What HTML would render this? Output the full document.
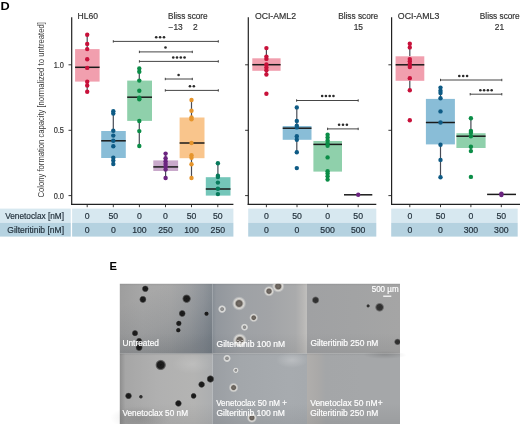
<!DOCTYPE html>
<html><head><meta charset="utf-8"><style>
html,body{margin:0;padding:0;background:#fff;}
body{width:520px;height:424px;overflow:hidden;}
svg{display:block;font-family:"Liberation Sans", sans-serif;will-change:transform;}
</style></head><body>
<svg width="520" height="424" viewBox="0 0 520 424">
<defs>

<linearGradient id="g0" x1="0" y1="0" x2="1" y2="0"><stop offset="0" stop-color="#9e9e9e"/><stop offset="0.25" stop-color="#a7a7a7"/><stop offset="0.55" stop-color="#a9a9a9"/><stop offset="0.75" stop-color="#a2a4a6"/><stop offset="0.9" stop-color="#979ba0"/><stop offset="1" stop-color="#8c9298"/></linearGradient>
<linearGradient id="g1" x1="0" y1="0" x2="1" y2="0"><stop offset="0" stop-color="#868d94"/><stop offset="0.04" stop-color="#92979d"/><stop offset="0.3" stop-color="#9ea1a5"/><stop offset="0.6" stop-color="#a2a4a7"/><stop offset="0.88" stop-color="#aaabac"/><stop offset="0.95" stop-color="#b6b5b4"/><stop offset="1" stop-color="#c0bfbd"/></linearGradient>
<linearGradient id="g2" x1="0" y1="0" x2="1" y2="0"><stop offset="0" stop-color="#a0a1a3"/><stop offset="0.5" stop-color="#a2a3a4"/><stop offset="1" stop-color="#a5a5a5"/></linearGradient>
<linearGradient id="g3" x1="0" y1="0" x2="1" y2="0"><stop offset="0" stop-color="#8e8e8e"/><stop offset="0.06" stop-color="#a6a6a6"/><stop offset="0.4" stop-color="#b0b0b0"/><stop offset="0.8" stop-color="#b4b4b3"/><stop offset="1" stop-color="#acaeb0"/></linearGradient>
<linearGradient id="g4" x1="0" y1="0" x2="1" y2="0"><stop offset="0" stop-color="#9a9ea3"/><stop offset="0.3" stop-color="#a3a7ab"/><stop offset="0.8" stop-color="#a7abaf"/><stop offset="1" stop-color="#a6aaae"/></linearGradient>
<linearGradient id="g5" x1="0" y1="0" x2="1" y2="0"><stop offset="0" stop-color="#b0aeac"/><stop offset="0.12" stop-color="#aaa9a8"/><stop offset="0.2" stop-color="#a4a6a8"/><stop offset="0.6" stop-color="#a5a7a9"/><stop offset="1" stop-color="#a5a7a9"/></linearGradient>
<linearGradient id="vsh" x1="0" y1="0" x2="0" y2="1"><stop offset="0" stop-color="#000" stop-opacity="0.08"/><stop offset="0.03" stop-color="#000" stop-opacity="0"/><stop offset="0.7" stop-color="#000" stop-opacity="0"/><stop offset="1" stop-color="#000" stop-opacity="0.06"/></linearGradient>
<radialGradient id="lt"><stop offset="0" stop-color="#ffffff" stop-opacity="0.22"/><stop offset="1" stop-color="#ffffff" stop-opacity="0"/></radialGradient>
<radialGradient id="dkb"><stop offset="0" stop-color="#000" stop-opacity="0.12"/><stop offset="1" stop-color="#000" stop-opacity="0"/></radialGradient>
<linearGradient id="p1d" x1="0.5" y1="0" x2="1" y2="0.75"><stop offset="0" stop-color="#102030" stop-opacity="0"/><stop offset="0.5" stop-color="#102030" stop-opacity="0.08"/><stop offset="1" stop-color="#102030" stop-opacity="0.2"/></linearGradient>
<radialGradient id="dk"><stop offset="0" stop-color="#181818"/><stop offset="0.62" stop-color="#1e1e1e"/><stop offset="0.85" stop-color="#3a3a3a" stop-opacity="0.6"/><stop offset="1" stop-color="#555" stop-opacity="0"/></radialGradient>
<radialGradient id="dk2"><stop offset="0" stop-color="#2c2c2c"/><stop offset="0.6" stop-color="#333"/><stop offset="0.85" stop-color="#555" stop-opacity="0.5"/><stop offset="1" stop-color="#666" stop-opacity="0"/></radialGradient>
<radialGradient id="ring"><stop offset="0" stop-color="#78716a"/><stop offset="0.4" stop-color="#635d57"/><stop offset="0.55" stop-color="#bdbab5"/><stop offset="0.68" stop-color="#dcdad6"/><stop offset="0.82" stop-color="#d4d4d2" stop-opacity="0.55"/><stop offset="1" stop-color="#d0d0d0" stop-opacity="0"/></radialGradient>
<radialGradient id="ringl"><stop offset="0" stop-color="#9a9a9a"/><stop offset="0.35" stop-color="#8a8a8a"/><stop offset="0.55" stop-color="#d8d8d6"/><stop offset="0.75" stop-color="#e6e6e4" stop-opacity="0.8"/><stop offset="1" stop-color="#ddd" stop-opacity="0"/></radialGradient>
<clipPath id="cE"><rect x="119.8" y="283.8" width="280.20" height="140.20"/></clipPath>
<filter id="bl" x="-20%" y="-20%" width="140%" height="140%"><feGaussianBlur stdDeviation="0.45"/></filter>
</defs>
<rect width="520" height="424" fill="#fff"/>
<text x="0.5" y="9.8" font-size="11.4" text-anchor="start" fill="#000" font-weight="bold" textLength="9.2" lengthAdjust="spacingAndGlyphs">D</text>
<rect x="0" y="208.6" width="70.80" height="14.20" fill="#d7e8f0"/>
<rect x="0" y="222.8" width="70.80" height="13.80" fill="#b5d2e0"/>
<rect x="72.1" y="208.6" width="161.30" height="14.20" fill="#d7e8f0"/>
<rect x="72.1" y="222.8" width="161.30" height="13.80" fill="#b5d2e0"/>
<rect x="248.2" y="208.6" width="128.10" height="14.20" fill="#d7e8f0"/>
<rect x="248.2" y="222.8" width="128.10" height="13.80" fill="#b5d2e0"/>
<rect x="391.2" y="208.6" width="126.50" height="14.20" fill="#d7e8f0"/>
<rect x="391.2" y="222.8" width="126.50" height="13.80" fill="#b5d2e0"/>
<text x="64" y="218.8" font-size="8.6" text-anchor="end" fill="#1f2d38" font-weight="normal" textLength="58.8" lengthAdjust="spacingAndGlyphs" stroke="#1f2d38" stroke-width="0.18">Venetoclax [nM]</text>
<text x="64" y="232.6" font-size="8.6" text-anchor="end" fill="#1f2d38" font-weight="normal" textLength="56.7" lengthAdjust="spacingAndGlyphs" stroke="#1f2d38" stroke-width="0.18">Gilteritinib [nM]</text>
<text x="87.2" y="218.9" font-size="8.7" text-anchor="middle" fill="#1f2d38" font-weight="normal" stroke="#1f2d38" stroke-width="0.18">0</text>
<text x="87.2" y="232.7" font-size="8.7" text-anchor="middle" fill="#1f2d38" font-weight="normal" stroke="#1f2d38" stroke-width="0.18">0</text>
<text x="113.3" y="218.9" font-size="8.7" text-anchor="middle" fill="#1f2d38" font-weight="normal" stroke="#1f2d38" stroke-width="0.18">50</text>
<text x="113.3" y="232.7" font-size="8.7" text-anchor="middle" fill="#1f2d38" font-weight="normal" stroke="#1f2d38" stroke-width="0.18">0</text>
<text x="139.4" y="218.9" font-size="8.7" text-anchor="middle" fill="#1f2d38" font-weight="normal" stroke="#1f2d38" stroke-width="0.18">0</text>
<text x="139.4" y="232.7" font-size="8.7" text-anchor="middle" fill="#1f2d38" font-weight="normal" stroke="#1f2d38" stroke-width="0.18">100</text>
<text x="165.5" y="218.9" font-size="8.7" text-anchor="middle" fill="#1f2d38" font-weight="normal" stroke="#1f2d38" stroke-width="0.18">0</text>
<text x="165.5" y="232.7" font-size="8.7" text-anchor="middle" fill="#1f2d38" font-weight="normal" stroke="#1f2d38" stroke-width="0.18">250</text>
<text x="191.5" y="218.9" font-size="8.7" text-anchor="middle" fill="#1f2d38" font-weight="normal" stroke="#1f2d38" stroke-width="0.18">50</text>
<text x="191.5" y="232.7" font-size="8.7" text-anchor="middle" fill="#1f2d38" font-weight="normal" stroke="#1f2d38" stroke-width="0.18">100</text>
<text x="217.8" y="218.9" font-size="8.7" text-anchor="middle" fill="#1f2d38" font-weight="normal" stroke="#1f2d38" stroke-width="0.18">50</text>
<text x="217.8" y="232.7" font-size="8.7" text-anchor="middle" fill="#1f2d38" font-weight="normal" stroke="#1f2d38" stroke-width="0.18">250</text>
<text x="266.4" y="218.9" font-size="8.7" text-anchor="middle" fill="#1f2d38" font-weight="normal" stroke="#1f2d38" stroke-width="0.18">0</text>
<text x="266.4" y="232.7" font-size="8.7" text-anchor="middle" fill="#1f2d38" font-weight="normal" stroke="#1f2d38" stroke-width="0.18">0</text>
<text x="297.0" y="218.9" font-size="8.7" text-anchor="middle" fill="#1f2d38" font-weight="normal" stroke="#1f2d38" stroke-width="0.18">50</text>
<text x="297.0" y="232.7" font-size="8.7" text-anchor="middle" fill="#1f2d38" font-weight="normal" stroke="#1f2d38" stroke-width="0.18">0</text>
<text x="327.6" y="218.9" font-size="8.7" text-anchor="middle" fill="#1f2d38" font-weight="normal" stroke="#1f2d38" stroke-width="0.18">0</text>
<text x="327.6" y="232.7" font-size="8.7" text-anchor="middle" fill="#1f2d38" font-weight="normal" stroke="#1f2d38" stroke-width="0.18">500</text>
<text x="358.2" y="218.9" font-size="8.7" text-anchor="middle" fill="#1f2d38" font-weight="normal" stroke="#1f2d38" stroke-width="0.18">50</text>
<text x="358.2" y="232.7" font-size="8.7" text-anchor="middle" fill="#1f2d38" font-weight="normal" stroke="#1f2d38" stroke-width="0.18">500</text>
<text x="409.8" y="218.9" font-size="8.7" text-anchor="middle" fill="#1f2d38" font-weight="normal" stroke="#1f2d38" stroke-width="0.18">0</text>
<text x="409.8" y="232.7" font-size="8.7" text-anchor="middle" fill="#1f2d38" font-weight="normal" stroke="#1f2d38" stroke-width="0.18">0</text>
<text x="440.5" y="218.9" font-size="8.7" text-anchor="middle" fill="#1f2d38" font-weight="normal" stroke="#1f2d38" stroke-width="0.18">50</text>
<text x="440.5" y="232.7" font-size="8.7" text-anchor="middle" fill="#1f2d38" font-weight="normal" stroke="#1f2d38" stroke-width="0.18">0</text>
<text x="470.9" y="218.9" font-size="8.7" text-anchor="middle" fill="#1f2d38" font-weight="normal" stroke="#1f2d38" stroke-width="0.18">0</text>
<text x="470.9" y="232.7" font-size="8.7" text-anchor="middle" fill="#1f2d38" font-weight="normal" stroke="#1f2d38" stroke-width="0.18">300</text>
<text x="501.3" y="218.9" font-size="8.7" text-anchor="middle" fill="#1f2d38" font-weight="normal" stroke="#1f2d38" stroke-width="0.18">50</text>
<text x="501.3" y="232.7" font-size="8.7" text-anchor="middle" fill="#1f2d38" font-weight="normal" stroke="#1f2d38" stroke-width="0.18">300</text>
<line x1="71.7" y1="17.3" x2="71.7" y2="205.0" stroke="#222222" stroke-width="1.2"/>
<line x1="71.10000000000001" y1="204.4" x2="233.4" y2="204.4" stroke="#222222" stroke-width="1.2"/>
<line x1="68.5" y1="64.8" x2="71.7" y2="64.8" stroke="#222222" stroke-width="0.9"/>
<line x1="68.5" y1="130.3" x2="71.7" y2="130.3" stroke="#222222" stroke-width="0.9"/>
<line x1="68.5" y1="195.6" x2="71.7" y2="195.6" stroke="#222222" stroke-width="0.9"/>
<line x1="87.2" y1="204.4" x2="87.2" y2="207.2" stroke="#222222" stroke-width="0.9"/>
<line x1="113.3" y1="204.4" x2="113.3" y2="207.2" stroke="#222222" stroke-width="0.9"/>
<line x1="139.4" y1="204.4" x2="139.4" y2="207.2" stroke="#222222" stroke-width="0.9"/>
<line x1="165.5" y1="204.4" x2="165.5" y2="207.2" stroke="#222222" stroke-width="0.9"/>
<line x1="191.5" y1="204.4" x2="191.5" y2="207.2" stroke="#222222" stroke-width="0.9"/>
<line x1="217.8" y1="204.4" x2="217.8" y2="207.2" stroke="#222222" stroke-width="0.9"/>
<line x1="248.3" y1="17.3" x2="248.3" y2="205.0" stroke="#222222" stroke-width="1.2"/>
<line x1="247.70000000000002" y1="204.4" x2="376.3" y2="204.4" stroke="#222222" stroke-width="1.2"/>
<line x1="245.10000000000002" y1="64.8" x2="248.3" y2="64.8" stroke="#222222" stroke-width="0.9"/>
<line x1="245.10000000000002" y1="130.3" x2="248.3" y2="130.3" stroke="#222222" stroke-width="0.9"/>
<line x1="245.10000000000002" y1="195.6" x2="248.3" y2="195.6" stroke="#222222" stroke-width="0.9"/>
<line x1="266.4" y1="204.4" x2="266.4" y2="207.2" stroke="#222222" stroke-width="0.9"/>
<line x1="297.0" y1="204.4" x2="297.0" y2="207.2" stroke="#222222" stroke-width="0.9"/>
<line x1="327.6" y1="204.4" x2="327.6" y2="207.2" stroke="#222222" stroke-width="0.9"/>
<line x1="358.2" y1="204.4" x2="358.2" y2="207.2" stroke="#222222" stroke-width="0.9"/>
<line x1="391.6" y1="17.3" x2="391.6" y2="205.0" stroke="#222222" stroke-width="1.2"/>
<line x1="391.0" y1="204.4" x2="520" y2="204.4" stroke="#222222" stroke-width="1.2"/>
<line x1="388.40000000000003" y1="64.8" x2="391.6" y2="64.8" stroke="#222222" stroke-width="0.9"/>
<line x1="388.40000000000003" y1="130.3" x2="391.6" y2="130.3" stroke="#222222" stroke-width="0.9"/>
<line x1="388.40000000000003" y1="195.6" x2="391.6" y2="195.6" stroke="#222222" stroke-width="0.9"/>
<line x1="409.8" y1="204.4" x2="409.8" y2="207.2" stroke="#222222" stroke-width="0.9"/>
<line x1="440.5" y1="204.4" x2="440.5" y2="207.2" stroke="#222222" stroke-width="0.9"/>
<line x1="470.9" y1="204.4" x2="470.9" y2="207.2" stroke="#222222" stroke-width="0.9"/>
<line x1="501.3" y1="204.4" x2="501.3" y2="207.2" stroke="#222222" stroke-width="0.9"/>
<text x="64.0" y="67.7" font-size="8.4" text-anchor="end" fill="#333" font-weight="normal" textLength="10.3" lengthAdjust="spacingAndGlyphs" stroke="#333" stroke-width="0.18">1.0</text>
<text x="64.0" y="132.8" font-size="8.4" text-anchor="end" fill="#333" font-weight="normal" textLength="10.3" lengthAdjust="spacingAndGlyphs" stroke="#333" stroke-width="0.18">0.5</text>
<text x="64.0" y="198.6" font-size="8.4" text-anchor="end" fill="#333" font-weight="normal" textLength="10.3" lengthAdjust="spacingAndGlyphs" stroke="#333" stroke-width="0.18">0.0</text>
<text transform="translate(44.2,197.4) rotate(-90)" font-size="8.9" fill="#3a3a3a" textLength="87.8" lengthAdjust="spacingAndGlyphs">Colony formation capacity</text>
<text transform="translate(44.2,107.6) rotate(-90)" font-size="8.9" fill="#3a3a3a" textLength="85.6" lengthAdjust="spacingAndGlyphs">[normalized to untreated]</text>
<text x="77.5" y="19.2" font-size="8.6" text-anchor="start" fill="#333" font-weight="normal" textLength="20.5" lengthAdjust="spacingAndGlyphs" stroke="#333" stroke-width="0.18">HL60</text>
<text x="254.9" y="19.2" font-size="8.6" text-anchor="start" fill="#333" font-weight="normal" textLength="41.1" lengthAdjust="spacingAndGlyphs" stroke="#333" stroke-width="0.18">OCI-AML2</text>
<text x="397.8" y="19.2" font-size="8.6" text-anchor="start" fill="#333" font-weight="normal" textLength="41.5" lengthAdjust="spacingAndGlyphs" stroke="#333" stroke-width="0.18">OCI-AML3</text>
<text x="167.9" y="19.2" font-size="8.4" text-anchor="start" fill="#333" font-weight="normal" textLength="39.8" lengthAdjust="spacingAndGlyphs" stroke="#333" stroke-width="0.18">Bliss score</text>
<text x="168.5" y="29.7" font-size="8.4" text-anchor="start" fill="#333" font-weight="normal" textLength="14.2" lengthAdjust="spacingAndGlyphs" stroke="#333" stroke-width="0.18">−13</text>
<text x="192.9" y="29.7" font-size="8.4" text-anchor="start" fill="#333" font-weight="normal" stroke="#333" stroke-width="0.18">2</text>
<text x="338.2" y="19.2" font-size="8.4" text-anchor="start" fill="#333" font-weight="normal" textLength="39.9" lengthAdjust="spacingAndGlyphs" stroke="#333" stroke-width="0.18">Bliss score</text>
<text x="358.3" y="29.9" font-size="8.4" text-anchor="middle" fill="#333" font-weight="normal" stroke="#333" stroke-width="0.18">15</text>
<text x="479.8" y="19.2" font-size="8.4" text-anchor="start" fill="#333" font-weight="normal" textLength="39.9" lengthAdjust="spacingAndGlyphs" stroke="#333" stroke-width="0.18">Bliss score</text>
<text x="499.5" y="29.9" font-size="8.4" text-anchor="middle" fill="#333" font-weight="normal" stroke="#333" stroke-width="0.18">21</text>
<line x1="87.2" y1="34.8" x2="87.2" y2="49.1" stroke="#474b55" stroke-width="1.2"/>
<line x1="87.2" y1="81.6" x2="87.2" y2="91.8" stroke="#474b55" stroke-width="1.2"/>
<rect x="75.1" y="49.1" width="24.50" height="32.50" fill="#f19fae"/>
<line x1="75.1" y1="67.3" x2="99.6" y2="67.3" stroke="#1a1a1a" stroke-width="1.5"/>
<circle cx="87.2" cy="34.8" r="2.2" fill="#c8113a"/>
<circle cx="87.2" cy="43.9" r="2.2" fill="#c8113a"/>
<circle cx="87.2" cy="49.1" r="2.2" fill="#c8113a"/>
<circle cx="87.2" cy="59.3" r="2.2" fill="#c8113a"/>
<circle cx="87.2" cy="67.9" r="2.2" fill="#c8113a"/>
<circle cx="87.2" cy="81.7" r="2.2" fill="#c8113a"/>
<circle cx="87.2" cy="85.5" r="2.2" fill="#c8113a"/>
<circle cx="87.2" cy="91.8" r="2.2" fill="#c8113a"/>
<line x1="113.3" y1="111.2" x2="113.3" y2="131.0" stroke="#474b55" stroke-width="1.2"/>
<line x1="113.3" y1="158.0" x2="113.3" y2="164.0" stroke="#474b55" stroke-width="1.2"/>
<rect x="101.2" y="131.0" width="24.60" height="27.00" fill="#89bdd7"/>
<line x1="101.2" y1="140.8" x2="125.8" y2="140.8" stroke="#1a1a1a" stroke-width="1.5"/>
<circle cx="113.3" cy="111.2" r="2.2" fill="#0e5b85"/>
<circle cx="113.3" cy="113.6" r="2.2" fill="#0e5b85"/>
<circle cx="113.3" cy="130.8" r="2.2" fill="#0e5b85"/>
<circle cx="113.3" cy="135.6" r="2.2" fill="#0e5b85"/>
<circle cx="113.3" cy="140.8" r="2.2" fill="#0e5b85"/>
<circle cx="113.3" cy="146.2" r="2.2" fill="#0e5b85"/>
<circle cx="113.3" cy="157.7" r="2.2" fill="#0e5b85"/>
<circle cx="113.3" cy="160.6" r="2.2" fill="#0e5b85"/>
<circle cx="113.3" cy="164.0" r="2.2" fill="#0e5b85"/>
<line x1="139.3" y1="68.5" x2="139.3" y2="80.6" stroke="#474b55" stroke-width="1.2"/>
<line x1="139.3" y1="120.9" x2="139.3" y2="146.0" stroke="#474b55" stroke-width="1.2"/>
<rect x="127.2" y="80.6" width="24.80" height="40.30" fill="#8fd0ab"/>
<line x1="127.2" y1="97.2" x2="152.0" y2="97.2" stroke="#1a1a1a" stroke-width="1.5"/>
<circle cx="139.3" cy="68.5" r="2.2" fill="#0b8d47"/>
<circle cx="139.3" cy="71.7" r="2.2" fill="#0b8d47"/>
<circle cx="139.3" cy="80.6" r="2.2" fill="#0b8d47"/>
<circle cx="139.3" cy="90.8" r="2.2" fill="#0b8d47"/>
<circle cx="139.3" cy="97.8" r="2.2" fill="#0b8d47"/>
<circle cx="139.3" cy="99.3" r="2.2" fill="#0b8d47"/>
<circle cx="139.3" cy="121.0" r="2.2" fill="#0b8d47"/>
<circle cx="139.3" cy="131.1" r="2.2" fill="#0b8d47"/>
<circle cx="139.3" cy="146.0" r="2.2" fill="#0b8d47"/>
<line x1="165.6" y1="153.3" x2="165.6" y2="160.4" stroke="#474b55" stroke-width="1.2"/>
<line x1="165.6" y1="171.0" x2="165.6" y2="178.2" stroke="#474b55" stroke-width="1.2"/>
<rect x="153.3" y="160.4" width="24.80" height="10.60" fill="#c9a9cb"/>
<line x1="153.3" y1="166.9" x2="178.1" y2="166.9" stroke="#1a1a1a" stroke-width="1.5"/>
<circle cx="165.6" cy="153.6" r="2.2" fill="#6b2480"/>
<circle cx="165.6" cy="158.2" r="2.2" fill="#6b2480"/>
<circle cx="165.6" cy="161.3" r="2.2" fill="#6b2480"/>
<circle cx="165.6" cy="164.0" r="2.2" fill="#6b2480"/>
<circle cx="165.6" cy="166.4" r="2.2" fill="#6b2480"/>
<circle cx="165.6" cy="169.6" r="2.2" fill="#6b2480"/>
<circle cx="165.6" cy="178.0" r="2.2" fill="#6b2480"/>
<line x1="191.5" y1="100.0" x2="191.5" y2="117.5" stroke="#474b55" stroke-width="1.2"/>
<line x1="191.5" y1="158.2" x2="191.5" y2="178.0" stroke="#474b55" stroke-width="1.2"/>
<rect x="179.6" y="117.5" width="24.90" height="40.70" fill="#f9c58c"/>
<line x1="179.6" y1="143.0" x2="204.5" y2="143.0" stroke="#1a1a1a" stroke-width="1.5"/>
<circle cx="191.5" cy="100.0" r="2.2" fill="#e6952c"/>
<circle cx="191.5" cy="110.7" r="2.2" fill="#e6952c"/>
<circle cx="191.5" cy="117.5" r="2.2" fill="#e6952c"/>
<circle cx="191.5" cy="119.2" r="2.2" fill="#e6952c"/>
<circle cx="191.5" cy="143.0" r="2.2" fill="#e6952c"/>
<circle cx="191.5" cy="155.3" r="2.2" fill="#e6952c"/>
<circle cx="191.5" cy="157.8" r="2.2" fill="#e6952c"/>
<circle cx="191.5" cy="164.2" r="2.2" fill="#e6952c"/>
<circle cx="191.5" cy="178.0" r="2.2" fill="#e6952c"/>
<line x1="217.9" y1="163.3" x2="217.9" y2="177.2" stroke="#474b55" stroke-width="1.2"/>
<line x1="217.9" y1="195.6" x2="217.9" y2="195.7" stroke="#474b55" stroke-width="1.2"/>
<rect x="205.8" y="177.2" width="24.70" height="18.40" fill="#74c6b9"/>
<line x1="205.8" y1="189.0" x2="230.5" y2="189.0" stroke="#1a1a1a" stroke-width="1.5"/>
<circle cx="217.9" cy="163.3" r="2.2" fill="#087a5c"/>
<circle cx="217.9" cy="175.7" r="2.2" fill="#087a5c"/>
<circle cx="217.9" cy="177.0" r="2.2" fill="#087a5c"/>
<circle cx="217.9" cy="182.6" r="2.2" fill="#087a5c"/>
<circle cx="217.9" cy="188.7" r="2.2" fill="#087a5c"/>
<circle cx="217.9" cy="194.1" r="2.2" fill="#087a5c"/>
<line x1="113.3" y1="41.4" x2="218.3" y2="41.4" stroke="#3c3c3c" stroke-width="0.95"/>
<line x1="113.3" y1="40.199999999999996" x2="113.3" y2="42.6" stroke="#3c3c3c" stroke-width="0.95"/>
<line x1="218.3" y1="40.199999999999996" x2="218.3" y2="42.6" stroke="#3c3c3c" stroke-width="0.95"/>
<circle cx="156.20" cy="37.3" r="1.3" fill="#2a2a2a"/>
<circle cx="160.10" cy="37.3" r="1.3" fill="#2a2a2a"/>
<circle cx="164.00" cy="37.3" r="1.3" fill="#2a2a2a"/>
<line x1="139.4" y1="51.9" x2="192.3" y2="51.9" stroke="#3c3c3c" stroke-width="0.95"/>
<line x1="139.4" y1="50.699999999999996" x2="139.4" y2="53.1" stroke="#3c3c3c" stroke-width="0.95"/>
<line x1="192.3" y1="50.699999999999996" x2="192.3" y2="53.1" stroke="#3c3c3c" stroke-width="0.95"/>
<circle cx="165.50" cy="47.5" r="1.3" fill="#2a2a2a"/>
<line x1="139.4" y1="61.4" x2="218.3" y2="61.4" stroke="#3c3c3c" stroke-width="0.95"/>
<line x1="139.4" y1="60.199999999999996" x2="139.4" y2="62.6" stroke="#3c3c3c" stroke-width="0.95"/>
<line x1="218.3" y1="60.199999999999996" x2="218.3" y2="62.6" stroke="#3c3c3c" stroke-width="0.95"/>
<circle cx="173.25" cy="57.5" r="1.3" fill="#2a2a2a"/>
<circle cx="177.02" cy="57.5" r="1.3" fill="#2a2a2a"/>
<circle cx="180.78" cy="57.5" r="1.3" fill="#2a2a2a"/>
<circle cx="184.56" cy="57.5" r="1.3" fill="#2a2a2a"/>
<line x1="165.3" y1="79.0" x2="192.3" y2="79.0" stroke="#3c3c3c" stroke-width="0.95"/>
<line x1="165.3" y1="77.8" x2="165.3" y2="80.2" stroke="#3c3c3c" stroke-width="0.95"/>
<line x1="192.3" y1="77.8" x2="192.3" y2="80.2" stroke="#3c3c3c" stroke-width="0.95"/>
<circle cx="178.60" cy="75.0" r="1.3" fill="#2a2a2a"/>
<line x1="165.3" y1="90.4" x2="218.3" y2="90.4" stroke="#3c3c3c" stroke-width="0.95"/>
<line x1="165.3" y1="89.2" x2="165.3" y2="91.60000000000001" stroke="#3c3c3c" stroke-width="0.95"/>
<line x1="218.3" y1="89.2" x2="218.3" y2="91.60000000000001" stroke="#3c3c3c" stroke-width="0.95"/>
<circle cx="189.95" cy="86.3" r="1.3" fill="#2a2a2a"/>
<circle cx="193.85" cy="86.3" r="1.3" fill="#2a2a2a"/>
<line x1="266.4" y1="48.1" x2="266.4" y2="58.3" stroke="#474b55" stroke-width="1.2"/>
<line x1="266.4" y1="70.8" x2="266.4" y2="74.5" stroke="#474b55" stroke-width="1.2"/>
<rect x="252.3" y="58.3" width="28.30" height="12.50" fill="#f19fae"/>
<line x1="252.3" y1="64.7" x2="280.6" y2="64.7" stroke="#1a1a1a" stroke-width="1.5"/>
<circle cx="266.4" cy="48.1" r="2.2" fill="#c8113a"/>
<circle cx="266.4" cy="56.6" r="2.2" fill="#c8113a"/>
<circle cx="266.4" cy="58.9" r="2.2" fill="#c8113a"/>
<circle cx="266.4" cy="64.5" r="2.2" fill="#c8113a"/>
<circle cx="266.4" cy="67.4" r="2.2" fill="#c8113a"/>
<circle cx="266.4" cy="70.2" r="2.2" fill="#c8113a"/>
<circle cx="266.4" cy="74.5" r="2.2" fill="#c8113a"/>
<circle cx="266.4" cy="93.8" r="2.2" fill="#c8113a"/>
<line x1="296.8" y1="107.4" x2="296.8" y2="126.0" stroke="#474b55" stroke-width="1.2"/>
<line x1="296.8" y1="139.8" x2="296.8" y2="152.2" stroke="#474b55" stroke-width="1.2"/>
<rect x="282.7" y="126.0" width="28.80" height="13.80" fill="#89bdd7"/>
<line x1="282.7" y1="128.2" x2="311.5" y2="128.2" stroke="#1a1a1a" stroke-width="1.5"/>
<circle cx="296.8" cy="107.4" r="2.2" fill="#0e5b85"/>
<circle cx="296.8" cy="120.9" r="2.2" fill="#0e5b85"/>
<circle cx="296.8" cy="125.7" r="2.2" fill="#0e5b85"/>
<circle cx="296.8" cy="127.4" r="2.2" fill="#0e5b85"/>
<circle cx="296.8" cy="136.3" r="2.2" fill="#0e5b85"/>
<circle cx="296.8" cy="139.8" r="2.2" fill="#0e5b85"/>
<circle cx="296.8" cy="152.2" r="2.2" fill="#0e5b85"/>
<circle cx="296.8" cy="168.1" r="2.2" fill="#0e5b85"/>
<line x1="327.6" y1="135.3" x2="327.6" y2="141.0" stroke="#474b55" stroke-width="1.2"/>
<line x1="327.6" y1="171.6" x2="327.6" y2="180.0" stroke="#474b55" stroke-width="1.2"/>
<rect x="313.4" y="141.0" width="28.60" height="30.60" fill="#8fd0ab"/>
<line x1="313.4" y1="144.4" x2="342.0" y2="144.4" stroke="#1a1a1a" stroke-width="1.5"/>
<circle cx="327.6" cy="134.8" r="2.2" fill="#0b8d47"/>
<circle cx="327.6" cy="137.6" r="2.2" fill="#0b8d47"/>
<circle cx="327.6" cy="140.4" r="2.2" fill="#0b8d47"/>
<circle cx="327.6" cy="143.2" r="2.2" fill="#0b8d47"/>
<circle cx="327.6" cy="145.8" r="2.2" fill="#0b8d47"/>
<circle cx="327.6" cy="157.4" r="2.2" fill="#0b8d47"/>
<circle cx="327.6" cy="171.2" r="2.2" fill="#0b8d47"/>
<circle cx="327.6" cy="173.6" r="2.2" fill="#0b8d47"/>
<circle cx="327.6" cy="176.2" r="2.2" fill="#0b8d47"/>
<circle cx="327.6" cy="179.6" r="2.2" fill="#0b8d47"/>
<line x1="344" y1="194.8" x2="372.3" y2="194.8" stroke="#1a1a1a" stroke-width="1.5"/>
<circle cx="358.2" cy="194.8" r="2.2" fill="#6b2480"/>
<line x1="296.6" y1="100.5" x2="358.2" y2="100.5" stroke="#3c3c3c" stroke-width="0.95"/>
<line x1="296.6" y1="99.3" x2="296.6" y2="101.7" stroke="#3c3c3c" stroke-width="0.95"/>
<line x1="358.2" y1="99.3" x2="358.2" y2="101.7" stroke="#3c3c3c" stroke-width="0.95"/>
<circle cx="322.15" cy="96.0" r="1.3" fill="#2a2a2a"/>
<circle cx="325.92" cy="96.0" r="1.3" fill="#2a2a2a"/>
<circle cx="329.69" cy="96.0" r="1.3" fill="#2a2a2a"/>
<circle cx="333.46" cy="96.0" r="1.3" fill="#2a2a2a"/>
<line x1="327.6" y1="128.9" x2="358.2" y2="128.9" stroke="#3c3c3c" stroke-width="0.95"/>
<line x1="327.6" y1="127.7" x2="327.6" y2="130.1" stroke="#3c3c3c" stroke-width="0.95"/>
<line x1="358.2" y1="127.7" x2="358.2" y2="130.1" stroke="#3c3c3c" stroke-width="0.95"/>
<circle cx="339.10" cy="124.8" r="1.3" fill="#2a2a2a"/>
<circle cx="343.00" cy="124.8" r="1.3" fill="#2a2a2a"/>
<circle cx="346.90" cy="124.8" r="1.3" fill="#2a2a2a"/>
<line x1="409.8" y1="43.8" x2="409.8" y2="56.3" stroke="#474b55" stroke-width="1.2"/>
<line x1="409.8" y1="80.8" x2="409.8" y2="90.3" stroke="#474b55" stroke-width="1.2"/>
<rect x="395.6" y="56.3" width="28.70" height="24.50" fill="#f19fae"/>
<line x1="395.6" y1="64.8" x2="424.3" y2="64.8" stroke="#1a1a1a" stroke-width="1.5"/>
<circle cx="409.8" cy="43.8" r="2.2" fill="#c8113a"/>
<circle cx="409.8" cy="47.4" r="2.2" fill="#c8113a"/>
<circle cx="409.8" cy="59.1" r="2.2" fill="#c8113a"/>
<circle cx="409.8" cy="61.2" r="2.2" fill="#c8113a"/>
<circle cx="409.8" cy="64.0" r="2.2" fill="#c8113a"/>
<circle cx="409.8" cy="67.0" r="2.2" fill="#c8113a"/>
<circle cx="409.8" cy="78.2" r="2.2" fill="#c8113a"/>
<circle cx="409.8" cy="90.3" r="2.2" fill="#c8113a"/>
<circle cx="409.8" cy="120.3" r="2.2" fill="#c8113a"/>
<line x1="440.5" y1="87.6" x2="440.5" y2="98.9" stroke="#474b55" stroke-width="1.2"/>
<line x1="440.5" y1="144.4" x2="440.5" y2="177.2" stroke="#474b55" stroke-width="1.2"/>
<rect x="425.9" y="98.9" width="29.00" height="45.50" fill="#89bdd7"/>
<line x1="425.9" y1="122.5" x2="454.9" y2="122.5" stroke="#1a1a1a" stroke-width="1.5"/>
<circle cx="440.5" cy="87.6" r="2.2" fill="#0e5b85"/>
<circle cx="440.5" cy="90.7" r="2.2" fill="#0e5b85"/>
<circle cx="440.5" cy="93.0" r="2.2" fill="#0e5b85"/>
<circle cx="440.5" cy="98.2" r="2.2" fill="#0e5b85"/>
<circle cx="440.5" cy="111.4" r="2.2" fill="#0e5b85"/>
<circle cx="440.5" cy="122.5" r="2.2" fill="#0e5b85"/>
<circle cx="440.5" cy="144.7" r="2.2" fill="#0e5b85"/>
<circle cx="440.5" cy="159.9" r="2.2" fill="#0e5b85"/>
<circle cx="440.5" cy="177.2" r="2.2" fill="#0e5b85"/>
<line x1="470.9" y1="118.3" x2="470.9" y2="133.2" stroke="#474b55" stroke-width="1.2"/>
<line x1="470.9" y1="148.0" x2="470.9" y2="151.1" stroke="#474b55" stroke-width="1.2"/>
<rect x="456.4" y="133.2" width="29.20" height="14.80" fill="#8fd0ab"/>
<line x1="456.4" y1="136.2" x2="485.6" y2="136.2" stroke="#1a1a1a" stroke-width="1.5"/>
<circle cx="470.9" cy="118.3" r="2.2" fill="#0b8d47"/>
<circle cx="470.9" cy="130.9" r="2.2" fill="#0b8d47"/>
<circle cx="470.9" cy="132.7" r="2.2" fill="#0b8d47"/>
<circle cx="470.9" cy="136.2" r="2.2" fill="#0b8d47"/>
<circle cx="470.9" cy="146.8" r="2.2" fill="#0b8d47"/>
<circle cx="470.9" cy="151.1" r="2.2" fill="#0b8d47"/>
<circle cx="470.9" cy="176.9" r="2.2" fill="#0b8d47"/>
<line x1="487.1" y1="194.4" x2="516" y2="194.4" stroke="#1a1a1a" stroke-width="1.5"/>
<circle cx="501.4" cy="193.6" r="2.2" fill="#6b2480"/>
<circle cx="501.4" cy="195.0" r="2.2" fill="#6b2480"/>
<line x1="440.5" y1="80.0" x2="501.8" y2="80.0" stroke="#3c3c3c" stroke-width="0.95"/>
<line x1="440.5" y1="78.8" x2="440.5" y2="81.2" stroke="#3c3c3c" stroke-width="0.95"/>
<line x1="501.8" y1="78.8" x2="501.8" y2="81.2" stroke="#3c3c3c" stroke-width="0.95"/>
<circle cx="459.30" cy="76.0" r="1.3" fill="#2a2a2a"/>
<circle cx="463.20" cy="76.0" r="1.3" fill="#2a2a2a"/>
<circle cx="467.10" cy="76.0" r="1.3" fill="#2a2a2a"/>
<line x1="470.2" y1="94.2" x2="501.8" y2="94.2" stroke="#3c3c3c" stroke-width="0.95"/>
<line x1="470.2" y1="93.0" x2="470.2" y2="95.4" stroke="#3c3c3c" stroke-width="0.95"/>
<line x1="501.8" y1="93.0" x2="501.8" y2="95.4" stroke="#3c3c3c" stroke-width="0.95"/>
<circle cx="480.35" cy="90.2" r="1.3" fill="#2a2a2a"/>
<circle cx="484.12" cy="90.2" r="1.3" fill="#2a2a2a"/>
<circle cx="487.89" cy="90.2" r="1.3" fill="#2a2a2a"/>
<circle cx="491.66" cy="90.2" r="1.3" fill="#2a2a2a"/>
<text x="109.6" y="269.8" font-size="11.2" text-anchor="start" fill="#000" font-weight="bold">E</text>
<rect x="119.8" y="283.8" width="92.70" height="69.80" fill="url(#g0)"/>
<rect x="212.5" y="283.8" width="94.50" height="69.80" fill="url(#g1)"/>
<rect x="307.0" y="283.8" width="93.00" height="69.80" fill="url(#g2)"/>
<rect x="119.8" y="353.6" width="92.70" height="70.40" fill="url(#g3)"/>
<rect x="212.5" y="353.6" width="94.50" height="70.40" fill="url(#g4)"/>
<rect x="307.0" y="353.6" width="93.00" height="70.40" fill="url(#g5)"/>
<rect x="119.8" y="283.8" width="280.20" height="69.80" fill="url(#vsh)"/>
<rect x="119.8" y="353.6" width="280.20" height="70.40" fill="url(#vsh)"/>
<rect x="119.8" y="283.8" width="92.70" height="69.80" fill="url(#p1d)"/>
<ellipse cx="192" cy="364" rx="20" ry="10" fill="url(#lt)" opacity="0.6"/>
<ellipse cx="292" cy="360" rx="16" ry="8" fill="url(#lt)"/>
<ellipse cx="140" cy="418" rx="30" ry="12" fill="url(#dkb)"/>
<ellipse cx="385" cy="355" rx="22" ry="4" fill="url(#dkb)"/>
<g clip-path="url(#cE)"><g filter="url(#bl)">
<circle cx="145.3" cy="288.8" r="3.6" fill="url(#dk)"/>
<circle cx="142.9" cy="299.4" r="3.8" fill="url(#dk)"/>
<circle cx="186.6" cy="298.7" r="4.6" fill="url(#dk)"/>
<circle cx="182.2" cy="313.5" r="3.7" fill="url(#dk)"/>
<circle cx="206.5" cy="313.7" r="2.5" fill="url(#dk)"/>
<circle cx="178.8" cy="323.4" r="3.1" fill="url(#dk)"/>
<circle cx="178.3" cy="330.2" r="2.6" fill="url(#dk)"/>
<circle cx="135" cy="333.2" r="3.4" fill="url(#dk)"/>
<circle cx="139.1" cy="340.8" r="3.2" fill="url(#dk)"/>
<circle cx="139.1" cy="347.5" r="3.8" fill="url(#dk)"/>
<circle cx="160.7" cy="365.0" r="5.6" fill="url(#dk)"/>
<circle cx="210.4" cy="379.0" r="4.0" fill="url(#dk)"/>
<circle cx="201.6" cy="384.5" r="3.6" fill="url(#dk)"/>
<circle cx="128.5" cy="395.9" r="3.6" fill="url(#dk)"/>
<circle cx="193.6" cy="395.9" r="3.2" fill="url(#dk)"/>
<circle cx="178.4" cy="403.4" r="3.6" fill="url(#dk)"/>
<circle cx="140.9" cy="396.8" r="2.2" fill="url(#dk2)"/>
<circle cx="315.6" cy="300.1" r="4.0" fill="url(#dk2)"/>
<circle cx="368.1" cy="305.9" r="2.0" fill="url(#dk2)"/>
<circle cx="379.6" cy="307.3" r="4.8" fill="url(#dk2)"/>
<circle cx="397.5" cy="341.9" r="3.6" fill="url(#dk2)"/>
<circle cx="278.2" cy="286.3" r="6.4" fill="url(#ring)"/>
<circle cx="269.0" cy="291.2" r="5.4" fill="url(#ring)"/>
<circle cx="239.1" cy="303.5" r="7.2" fill="url(#ring)"/>
<circle cx="253.7" cy="317.7" r="4.6" fill="url(#ring)"/>
<circle cx="239.8" cy="340.3" r="7.2" fill="url(#ring)"/>
<circle cx="233.6" cy="387.6" r="5.0" fill="url(#ring)"/>
<circle cx="251.9" cy="417.8" r="5.2" fill="url(#ring)"/>
<circle cx="222.1" cy="309.1" r="4.2" fill="url(#ringl)"/>
<circle cx="244.5" cy="327.2" r="3.8" fill="url(#ringl)"/>
<circle cx="227.0" cy="358.4" r="4.0" fill="url(#ringl)"/>
<circle cx="235.8" cy="370.3" r="3.0" fill="url(#ringl)"/>
</g></g>
<text x="122.5" y="346.3" font-size="8.2" text-anchor="start" fill="#ffffff" font-weight="normal" textLength="36.5" lengthAdjust="spacingAndGlyphs" stroke="#fff" stroke-width="0.18">Untreated</text>
<text x="216.6" y="346.5" font-size="8.2" text-anchor="start" fill="#ffffff" font-weight="normal" textLength="68.5" lengthAdjust="spacingAndGlyphs" stroke="#fff" stroke-width="0.18">Gilteritinib 100 nM</text>
<text x="310.4" y="346.2" font-size="8.2" text-anchor="start" fill="#ffffff" font-weight="normal" textLength="68.0" lengthAdjust="spacingAndGlyphs" stroke="#fff" stroke-width="0.18">Gilteritinib 250 nM</text>
<text x="122.5" y="416.3" font-size="8.2" text-anchor="start" fill="#ffffff" font-weight="normal" textLength="65.5" lengthAdjust="spacingAndGlyphs" stroke="#fff" stroke-width="0.18">Venetoclax 50 nM</text>
<text x="216.2" y="406.4" font-size="8.2" text-anchor="start" fill="#ffffff" font-weight="normal" textLength="70.8" lengthAdjust="spacingAndGlyphs" stroke="#fff" stroke-width="0.18">Venetoclax 50 nM +</text>
<text x="216.4" y="415.9" font-size="8.2" text-anchor="start" fill="#ffffff" font-weight="normal" textLength="68.5" lengthAdjust="spacingAndGlyphs" stroke="#fff" stroke-width="0.18">Gilteritinib 100 nM</text>
<text x="310.2" y="405.9" font-size="8.2" text-anchor="start" fill="#ffffff" font-weight="normal" textLength="72.4" lengthAdjust="spacingAndGlyphs" stroke="#fff" stroke-width="0.18">Venetoclax 50 nM+</text>
<text x="310.2" y="415.7" font-size="8.2" text-anchor="start" fill="#ffffff" font-weight="normal" textLength="68.0" lengthAdjust="spacingAndGlyphs" stroke="#fff" stroke-width="0.18">Gilteritinib 250 nM</text>
<text x="371.7" y="292.4" font-size="8.8" text-anchor="start" fill="#ffffff" font-weight="normal" textLength="26.9" lengthAdjust="spacingAndGlyphs" stroke="#fff" stroke-width="0.2">500 µm</text>
<rect x="383.2" y="295.6" width="8.1" height="1.2" fill="#fff"/>
</svg>
</body></html>
